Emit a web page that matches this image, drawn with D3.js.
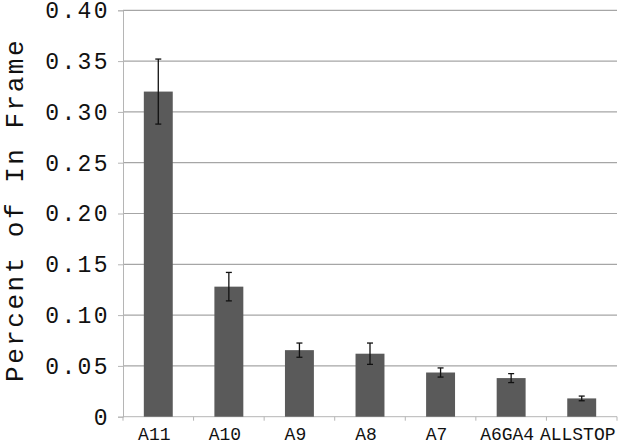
<!DOCTYPE html>
<html><head><meta charset="utf-8">
<script src="https://cdn.jsdelivr.net/npm/d3@7"></script>
<style>body{margin:0;background:#fff}svg{display:block}</style>
</head><body>
<script>
const categories = ["A11","A10","A9","A8","A7","A6GA4","ALLSTOP"];
const values = [0.320, 0.128, 0.0655, 0.062, 0.0435, 0.038, 0.018];
const errors = [0.032, 0.014, 0.007, 0.0105, 0.0045, 0.0044, 0.0023];
const yTicks = [0, 0.05, 0.10, 0.15, 0.20, 0.25, 0.30, 0.35, 0.40];
const yTickLabels = ["0","0.05","0.10","0.15","0.20","0.25","0.30","0.35","0.40"];
const yTitle = "Percent of In Frame";

const W = 633, H = 446;
const m = {left:123, right:16, top:10.3, bottom:29.3};
const svg = d3.select("body").append("svg").attr("width",W).attr("height",H);
const x = d3.scaleBand().domain(categories).range([m.left, W-m.right]).paddingInner(0.59).paddingOuter(0.295);
const y = d3.scaleLinear().domain([0,0.40]).range([H-m.bottom, m.top]);
const font = "'Liberation Mono','Courier New',monospace";

// gridlines
svg.append("g").selectAll("line").data(yTicks.filter(d=>d>0)).join("line")
  .attr("x1",m.left).attr("x2",W-m.right)
  .attr("y1",d=>y(d)).attr("y2",d=>y(d))
  .attr("stroke","#a6a6a6").attr("stroke-width",1.2);

// y axis
const ya = svg.append("g").attr("transform",`translate(${m.left},0)`)
  .call(d3.axisLeft(y).tickValues(yTicks).tickFormat((d,i)=>yTickLabels[i]).tickSize(5).tickPadding(8));
ya.select(".domain").attr("stroke","#b5b5b5");
ya.selectAll(".tick line").attr("stroke","#b5b5b5");
ya.selectAll("text").attr("font-family",font).attr("font-size",23).attr("letter-spacing",2.4).attr("fill","#111");

// x axis
const bounds = d3.range(categories.length+1).map(i=>m.left + i*(W-m.right-m.left)/categories.length);
const xa = svg.append("g").attr("transform",`translate(0,${H-m.bottom})`);
xa.append("line").attr("x1",m.left).attr("x2",W-m.right).attr("stroke","#b5b5b5");
xa.selectAll(".bt").data(bounds).join("line").attr("class","bt")
  .attr("x1",d=>d).attr("x2",d=>d).attr("y1",0).attr("y2",4).attr("stroke","#b5b5b5");
const labs = xa.selectAll("text").data(categories).join("text")
  .attr("y",23.8)
  .attr("text-anchor","middle").attr("font-family",font).attr("font-size",18).attr("fill","#111")
  .text(d=>d);
labs.each(function(d){
  const w = this.getComputedTextLength();
  let cx = x(d)+x.bandwidth()/2 - 4;
  if (cx + w/2 > W - 1) cx = W - 1 - w/2;
  d3.select(this).attr("x",cx);
});

// bars
svg.append("g").selectAll("rect").data(categories).join("rect")
  .attr("x",d=>x(d)).attr("width",x.bandwidth())
  .attr("y",(d,i)=>y(values[i])).attr("height",(d,i)=>y(0)-y(values[i]))
  .attr("fill","#5a5a5a");

// error bars
const eb = svg.append("g").attr("stroke","#111").attr("stroke-width",1.3);
categories.forEach((c,i)=>{
  const cx = x(c)+x.bandwidth()/2;
  const y1 = y(values[i]+errors[i]), y2 = y(values[i]-errors[i]);
  eb.append("line").attr("x1",cx).attr("x2",cx).attr("y1",y1).attr("y2",y2);
  eb.append("line").attr("x1",cx-3).attr("x2",cx+3).attr("y1",y1).attr("y2",y1);
  eb.append("line").attr("x1",cx-3).attr("x2",cx+3).attr("y1",y2).attr("y2",y2);
});

// y title
svg.append("text").attr("transform",`translate(23,210) rotate(-90)`)
  .attr("text-anchor","middle").attr("font-family",font).attr("font-size",26).attr("fill","#111")
  .attr("letter-spacing",2.5)
  .text(yTitle);
</script>
</body></html>
